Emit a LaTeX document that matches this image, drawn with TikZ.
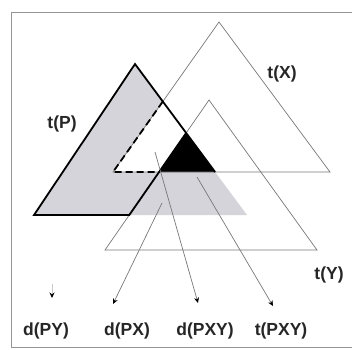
\documentclass[tikz,border=0pt]{standalone}
\usepackage{fontspec}
\setmainfont{Liberation Sans}
\usetikzlibrary{arrows.meta}
\definecolor{pgray}{RGB}{212,212,218}
\definecolor{thin}{RGB}{120,120,120}
\definecolor{framec}{RGB}{150,150,150}
\begin{document}
\begin{tikzpicture}[x=1pt,y=-1pt,
  thinline/.style={draw=thin,line width=0.7pt},
  thickline/.style={draw=black,line width=1.8pt,line join=miter},
  dashline/.style={draw=black,line width=1.8pt,dash pattern=on 7pt off 4pt},
  arr/.style={draw=thin,line width=0.7pt,-{Stealth[length=5.5pt,width=5pt,inset=1.8pt,color=black]}},
  lab/.style={font=\fontsize{17.5}{20}\selectfont\bfseries,anchor=base,inner sep=0pt,text=black!85}]
\useasboundingbox (0,0) rectangle (352,349);
\fill[white] (0,0) rectangle (352,349);
% frame
\draw[framec,line width=0.9pt] (356,12) -- (11,12) -- (11,347) -- (356,347);
% triangle corners
\coordinate (Pa) at (135,64);  \coordinate (Pl) at (34,215);  \coordinate (Pr) at (247,215);
\coordinate (Xa) at (219,22);  \coordinate (Xl) at (113,172); \coordinate (Xr) at (330,172);
\coordinate (Ya) at (209,100); \coordinate (Yl) at (105,250); \coordinate (Yr) at (317,250);
% fills
\fill[pgray] (Pa) -- (Pl) -- (Pr) -- cycle;
\begin{scope}
  \clip (Pa) -- (Pl) -- (Pr) -- cycle;
  \fill[white] (Xa) -- (Xl) -- (Xr) -- cycle;
  \clip (Xa) -- (Xl) -- (Xr) -- cycle;
  \fill[black] (Ya) -- (Yl) -- (Yr) -- cycle;
\end{scope}
% thin outlines of t(X) and t(Y)
\draw[thinline] (Xa) -- (Xl) -- (Xr) -- cycle;
\draw[thinline] (Ya) -- (Yl) -- (Yr) -- cycle;
% key points
\coordinate (Q1) at (intersection of Pa--Pr and Xa--Xl);
\coordinate (Q2) at (intersection of Xl--Xr and Ya--Yl);
\coordinate (Q3) at (intersection of Pa--Pr and Xl--Xr);
\coordinate (Q4) at (intersection of Pl--Pr and Ya--Yl);
\coordinate (Q5) at (intersection of Pa--Pr and Ya--Yl);
% thick outline of t(P)
\draw[thickline] (Q5) -- (Q4) -- (Pl) -- (Pa) -- (Q3);
\draw[dashline] (Q1) -- (Xl) -- (Q2);
% labels
\node[lab] (tP) at (62,128) {t(P)};
\node[lab] (tX) at (282,78) {t(X)};
\node[lab] (tY) at (329,279) {t(Y)};
\node[lab] (dPY) at (46,335) {d(PY)};
\node[lab] (dPX) at (127,335) {d(PX)};
\node[lab] (dPXY) at (205,335) {d(PXY)};
\node[lab] (tPXY) at (281,335) {t(PXY)};
% arrows
\coordinate (s1) at (52,284);  \coordinate (e1) at (52,298);
\coordinate (s2) at (162,203); \coordinate (e2) at (113,304);
\coordinate (s3) at (155,152); \coordinate (e3) at (198,303);
\coordinate (s4) at (197,177); \coordinate (e4) at (273,306);
\draw[arr,draw=thin!40] (s1) -- (e1);
\draw[arr] (s2) -- (e2);
\draw[arr] (s3) -- (e3);
\draw[arr] (s4) -- (e4);
\end{tikzpicture}
\end{document}
